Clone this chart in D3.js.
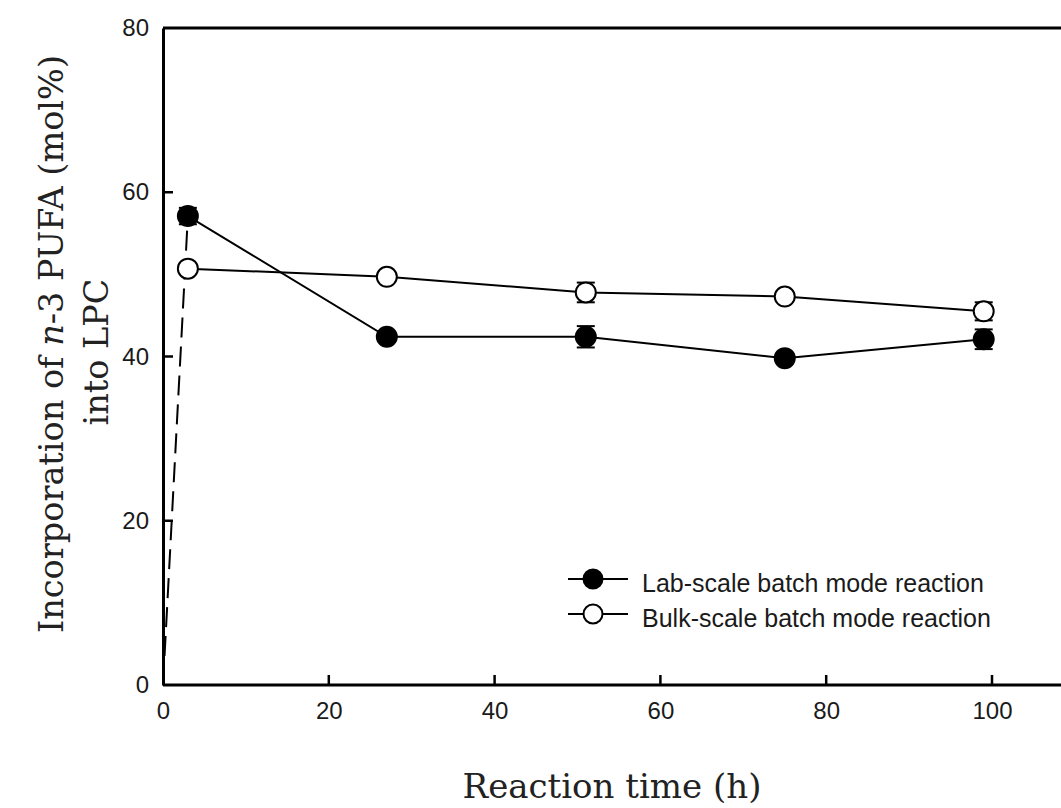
<!DOCTYPE html>
<html>
<head>
<meta charset="utf-8">
<script src="https://cdn.jsdelivr.net/npm/d3@7"></script>
<style>
  html, body { margin: 0; padding: 0; background: #fff; }
  svg { display: block; }
</style>
</head>
<body>
<svg id="chart" width="1061" height="808"></svg>
<script>
// Reaction time points (h)
const times = [3, 27, 51, 75, 99];
// Lab-scale batch mode reaction: mean and error
const labValues = [57.1, 42.4, 42.4, 39.8, 42.1];
const labErrors = [1.0, 0.6, 1.3, 0.6, 1.2];
// Bulk-scale batch mode reaction: mean and error
const bulkValues = [50.7, 49.7, 47.8, 47.3, 45.5];
const bulkErrors = [0.4, 0.5, 1.2, 0.6, 1.1];
// Start of the reaction (dashed ramp into the first lab-scale point)
const startTime = [0, 3];
const startValues = [0, 57.1];

const xTicks = [0, 20, 40, 60, 80, 100];
const yTicks = [0, 20, 40, 60, 80];
const seriesNames = ["Lab-scale batch mode reaction", "Bulk-scale batch mode reaction"];

const svg = d3.select("#chart");
const plotLeft = 163, plotTop = 28, plotBottom = 685, plotRight = 1061;
const tickLen = 10;

const x = d3.scaleLinear().domain([0, 110]).range([plotLeft, plotLeft + 110 * 8.29]);
const y = d3.scaleLinear().domain([0, 80]).range([plotBottom, plotTop]);

const sans = "Arial, 'Liberation Sans', sans-serif";
const serif = "'DejaVu Serif', 'Liberation Serif', serif";

// Frame: top border
svg.append("line")
  .attr("x1", plotLeft).attr("x2", plotRight)
  .attr("y1", plotTop).attr("y2", plotTop)
  .attr("stroke", "#000").attr("stroke-width", 3);

// Axes: labels and axis lines
const xAxis = svg.append("g")
  .attr("transform", `translate(0,${plotBottom})`)
  .call(d3.axisBottom(x).tickValues(xTicks).tickSize(0)
    .tickPadding(17).tickFormat(d3.format("d")));
const yAxis = svg.append("g")
  .attr("transform", `translate(${plotLeft},0)`)
  .call(d3.axisLeft(y).tickValues(yTicks).tickSize(0)
    .tickPadding(14).tickFormat(d3.format("d")));

[xAxis, yAxis].forEach(g => {
  g.select(".domain").attr("stroke", "#000").attr("stroke-width", 3);
  g.selectAll(".tick text")
    .attr("fill", "#1a1a1a")
    .style("font-family", sans)
    .style("font-size", "24px");
});
xAxis.select(".domain").attr("d", `M${plotLeft},0H${plotRight}`);

// Inward tick marks
const ticks = svg.append("g").attr("stroke", "#000").attr("stroke-width", 2.5);
ticks.selectAll("line.xt")
  .data(xTicks.filter(d => d > 0))
  .join("line").attr("class", "xt")
  .attr("x1", d => x(d)).attr("x2", d => x(d))
  .attr("y1", plotBottom).attr("y2", plotBottom - tickLen);
ticks.selectAll("line.yt")
  .data(yTicks.filter(d => d > 0 && d < 80))
  .join("line").attr("class", "yt")
  .attr("x1", plotLeft).attr("x2", plotLeft + tickLen)
  .attr("y1", d => y(d)).attr("y2", d => y(d));

// Dashed ramp from time zero
const line = d3.line().x(d => x(d[0])).y(d => y(d[1]));
svg.append("path")
  .datum(d3.zip(startTime, startValues))
  .attr("d", line)
  .attr("fill", "none")
  .attr("stroke", "#000")
  .attr("stroke-width", 2)
  .attr("stroke-dasharray", "20,9");

function drawSeries(values, errors, fill) {
  const pts = d3.zip(times, values);
  svg.append("path")
    .datum(pts)
    .attr("d", line)
    .attr("fill", "none")
    .attr("stroke", "#000")
    .attr("stroke-width", 2);

  const eb = svg.append("g");
  times.forEach((t, i) => {
    const cx = x(t), y1 = y(values[i] + errors[i]), y2 = y(values[i] - errors[i]);
    eb.append("line").attr("x1", cx).attr("x2", cx).attr("y1", y1).attr("y2", y2)
      .attr("stroke", "#000").attr("stroke-width", 2);
    [y1, y2].forEach(yy => eb.append("line")
      .attr("x1", cx - 9).attr("x2", cx + 9).attr("y1", yy).attr("y2", yy)
      .attr("stroke", "#000").attr("stroke-width", 2));
  });

  svg.append("g").selectAll("circle")
    .data(pts)
    .join("circle")
    .attr("cx", d => x(d[0]))
    .attr("cy", d => y(d[1]))
    .attr("r", 10)
    .attr("fill", fill)
    .attr("stroke", "#000")
    .attr("stroke-width", 2);
}

drawSeries(bulkValues, bulkErrors, "#fff");
drawSeries(labValues, labErrors, "#000");

// Legend
const legend = svg.append("g");
[["#000", 579], ["#fff", 614]].forEach(([fill, ly], i) => {
  legend.append("line").attr("x1", 568).attr("x2", 628).attr("y1", ly).attr("y2", ly)
    .attr("stroke", "#000").attr("stroke-width", 2);
  legend.append("circle").attr("cx", 593).attr("cy", ly).attr("r", 9.5)
    .attr("fill", fill).attr("stroke", "#000").attr("stroke-width", 2);
  legend.append("text").attr("x", 642).attr("y", ly + 13)
    .style("font-family", sans)
    .style("font-size", "25px").attr("fill", "#1a1a1a")
    .text(seriesNames[i]);
});

// Axis titles
svg.append("text")
  .attr("x", (plotLeft + plotRight) / 2).attr("y", 798)
  .attr("text-anchor", "middle")
  .style("font-family", serif).style("font-size", "34px").attr("fill", "#222")
  .text("Reaction time (h)");

const yTitle = svg.append("text")
  .attr("transform", "translate(63,344) rotate(-90)")
  .attr("text-anchor", "middle")
  .style("font-family", serif).style("font-size", "33.5px").attr("fill", "#222");
yTitle.append("tspan").text("Incorporation of ");
yTitle.append("tspan").style("font-style", "italic").text("n");
yTitle.append("tspan").text("-3 PUFA (mol%)");
svg.append("text")
  .attr("transform", "translate(108,352) rotate(-90)")
  .attr("text-anchor", "middle")
  .style("font-family", serif).style("font-size", "33.5px").attr("fill", "#222")
  .text("into LPC");
</script>
</body>
</html>
